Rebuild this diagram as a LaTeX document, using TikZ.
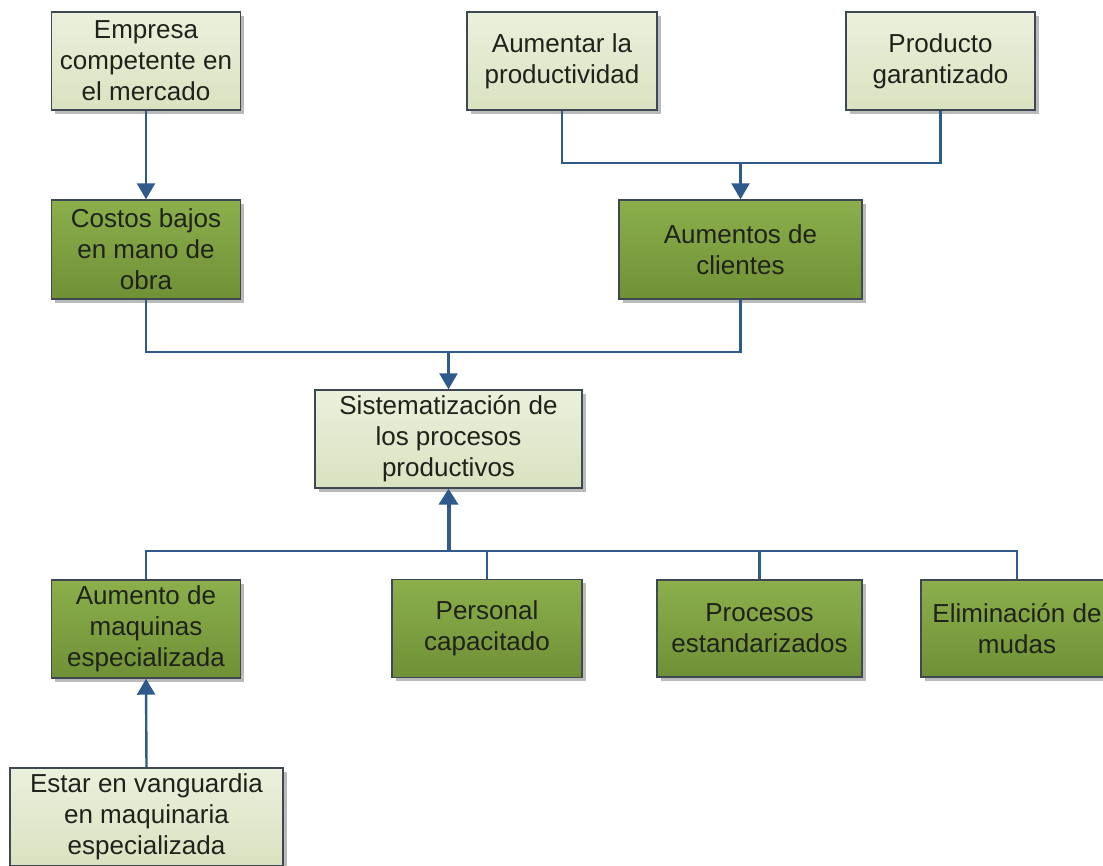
\documentclass[tikz,border=0pt]{standalone}
\usepackage{fontspec}
\setmainfont{Liberation Sans}
\usetikzlibrary{arrows.meta,shadows}
\definecolor{lightA}{HTML}{EBF0DC}
\definecolor{lightB}{HTML}{D9E2C0}
\definecolor{darkA}{HTML}{8CAF4C}
\definecolor{darkB}{HTML}{6F9035}
\definecolor{bordc}{HTML}{3E4852}
\definecolor{linec}{HTML}{2E5A8C}
\definecolor{txtc}{HTML}{1E221A}
\tikzset{
  basebox/.style={rectangle, draw=bordc, line width=1.4pt, align=center,
    text=txtc, font=\fontsize{26}{31}\selectfont, inner sep=2pt,
    drop shadow={shadow xshift=3.5pt, shadow yshift=-3.5pt, fill=black!45, opacity=0.6}},
  lightbox/.style={basebox, top color=lightA, bottom color=lightB},
  darkbox/.style={basebox, top color=darkA, bottom color=darkB},
  conn/.style={draw=linec, line width=2.4pt},
  arr/.style={conn, -{Triangle[width=18pt,length=16pt]}},
  thickarr/.style={draw=linec, line width=4pt, -{Triangle[width=19pt,length=16pt]}}
}
\begin{document}
\begin{tikzpicture}[x=1pt,y=-1pt]
\clip (0,0) rectangle (1103,865);
\fill[white] (0,0) rectangle (1103,865);

\node[lightbox, minimum width=189pt, minimum height=98pt] (emp) at (146,61) {Empresa\\competente en\\el mercado};
\node[darkbox, minimum width=189pt, minimum height=99pt] (cos) at (146,249.5) {Costos bajos\\en mano de\\obra};
\node[lightbox, minimum width=190pt, minimum height=98pt] (aum) at (562,61) {Aumentar la\\productividad};
\node[lightbox, minimum width=189pt, minimum height=98pt] (pro) at (940.5,61) {Producto\\garantizado};
\node[darkbox, minimum width=243pt, minimum height=99pt] (aus) at (740.5,249.5) {Aumentos de\\clientes};
\node[lightbox, minimum width=267pt, minimum height=98pt] (sis) at (448.5,439) {Sistematización de\\los procesos\\productivos};
\node[darkbox, minimum width=189pt, minimum height=98pt] (maq) at (146,629) {Aumento de\\maquinas\\especializada};
\node[darkbox, minimum width=190pt, minimum height=98pt] (per) at (487,628.5) {Personal\\capacitado};
\node[darkbox, minimum width=205pt, minimum height=97pt] (prc) at (759.5,628.5) {Procesos\\estandarizados};
\node[darkbox, minimum width=192pt, minimum height=97pt] (eli) at (1017,628.5) {Eliminación de\\mudas};
\node[lightbox, minimum width=273pt, minimum height=98pt] (est) at (146.5,817) {Estar en vanguardia\\en maquinaria\\especializada};

\coordinate (j1) at (740.5,163);
\coordinate (j2) at (448.5,352);
\coordinate (j3) at (448.5,551);

\draw[arr] (emp.south) -- (cos.north);
\draw[conn] (aum.south) |- (j1) -| (pro.south);
\draw[arr] (j1) -- (aus.north);
\draw[conn] (cos.south) |- (j2) -| (aus.south);
\draw[arr] (j2) -- (sis.north);
\draw[conn] (maq.north) |- (j3) -| (eli.north);
\draw[conn] (per.north) |- (j3);
\draw[conn] (prc.north) |- (j3);
\draw[thickarr] (j3) -- (sis.south);
\draw[arr] (est.north) -- (maq.south);
\end{tikzpicture}
\end{document}
